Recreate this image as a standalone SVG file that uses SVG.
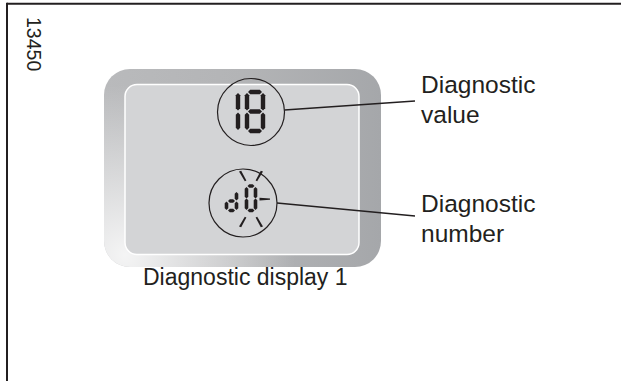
<svg xmlns="http://www.w3.org/2000/svg" width="621" height="381" viewBox="0 0 621 381">
<style>
.lbl{font-family:"Liberation Sans",Arial,sans-serif;font-size:24.5px;fill:#231f20}
.cap{font-family:"Liberation Sans",Arial,sans-serif;font-size:23px;fill:#231f20}
.seg{fill:#231f20}
.ring{fill:none;stroke:#231f20;stroke-width:1.2}
.lead{fill:none;stroke:#231f20;stroke-width:1.4}
.ray{fill:#231f20}
</style>
<defs>
<linearGradient id="bez" x1="0" y1="0" x2="1" y2="0">
<stop offset="0" stop-color="#b9babc"/>
<stop offset="0.5" stop-color="#b3b4b6"/>
<stop offset="1" stop-color="#a5a7aa"/>
</linearGradient>
<radialGradient id="glow" cx="125" cy="255" r="170" gradientUnits="userSpaceOnUse">
<stop offset="0" stop-color="#ffffff" stop-opacity="0.85"/>
<stop offset="0.6" stop-color="#ffffff" stop-opacity="0.35"/>
<stop offset="1" stop-color="#ffffff" stop-opacity="0"/>
</radialGradient>
<path id="h14" d="M0,0 L2.2,-2.2 L11.8,-2.2 L14,0 L11.8,2.2 L2.2,2.2 Z"/>
<path id="v17" d="M0,0 L2.2,2.2 L2.2,15.3 L0,17.5 L-2.2,15.3 L-2.2,2.2 Z"/>
<path id="h7" d="M0,0 L1.8,-1.8 L5.2,-1.8 L7,0 L5.2,1.8 L1.8,1.8 Z"/>
<path id="v11" d="M0,0 L1.8,1.8 L1.8,9.7 L0,11.5 L-1.8,9.7 L-1.8,1.8 Z"/>
<path id="v9" d="M0,0 L1.8,1.8 L1.8,6.7 L0,8.5 L-1.8,6.7 L-1.8,1.8 Z"/>
</defs>
<g id="frame">
<line x1="7" y1="3.7" x2="621" y2="3.7" stroke="#231f20" stroke-width="2"/>
<line x1="7" y1="2.7" x2="7" y2="381" stroke="#231f20" stroke-width="2"/>
</g>
<g id="ref-number">
<text class="cap" transform="translate(27,17) rotate(90)" style="font-size:19.5px">13450</text>
</g>
<g id="display">
<rect x="104" y="69" width="277" height="198" rx="26" fill="url(#bez)"/>
<rect x="104" y="69" width="277" height="198" rx="26" fill="url(#glow)"/>
<rect x="125" y="84.5" width="234" height="170" rx="12" fill="#d3d4d6" stroke="#ffffff" stroke-width="1.5"/>
</g>
<g id="value-window">
<circle class="ring" cx="251" cy="112" r="33.5"/>
<g class="seg">
<use href="#v17" x="238" y="93"/>
<use href="#v17" x="238" y="112.5"/>
<use href="#h14" x="248" y="92"/>
<use href="#h14" x="248" y="111.5"/>
<use href="#h14" x="248" y="131"/>
<use href="#v17" x="247" y="93"/>
<use href="#v17" x="247" y="112.5"/>
<use href="#v17" x="263" y="93"/>
<use href="#v17" x="263" y="112.5"/>
</g>
</g>
<g id="number-window">
<circle class="ring" cx="243" cy="203" r="34"/>
<g class="seg">
<use href="#v9" x="236.5" y="192"/>
<use href="#v9" x="236.5" y="201.5"/>
<use href="#h7" x="228" y="201"/>
<use href="#h7" x="228" y="210.5"/>
<use href="#v9" x="226.5" y="201.5"/>
<use href="#h7" x="247.5" y="186"/>
<use href="#h7" x="247.5" y="210.5"/>
<use href="#v11" x="246.5" y="187"/>
<use href="#v11" x="246.5" y="198.5"/>
<use href="#v11" x="255.5" y="187"/>
<use href="#v11" x="255.5" y="198.5"/>
</g>
<g class="ray">
<path d="M239,171.5 L241.2,170.8 L246.4,180.6 L244.8,181.3 Z"/>
<path d="M263,171.5 L260.8,170.8 L255.6,180.6 L257.2,181.3 Z"/>
<path d="M259.5,197.8 L270,198.5 L270,199.7 L259.5,200.5 Z"/>
<path d="M244.8,216.8 L246.4,217.5 L241.2,227.2 L239,226.5 Z"/>
<path d="M257.2,216.8 L255.6,217.5 L260.8,227.2 L263,226.5 Z"/>
</g>
</g>
<g id="connectors">
<line class="lead" x1="284.5" y1="110" x2="415" y2="101"/>
<line class="lead" x1="277" y1="203" x2="415" y2="216"/>
</g>
<g id="labels">
<text class="lbl" x="421" y="93">Diagnostic</text>
<text class="lbl" x="421" y="123">value</text>
<text class="lbl" x="421" y="212">Diagnostic</text>
<text class="lbl" x="421" y="242">number</text>
<text class="cap" x="143" y="285">Diagnostic display 1</text>
</g>
</svg>
